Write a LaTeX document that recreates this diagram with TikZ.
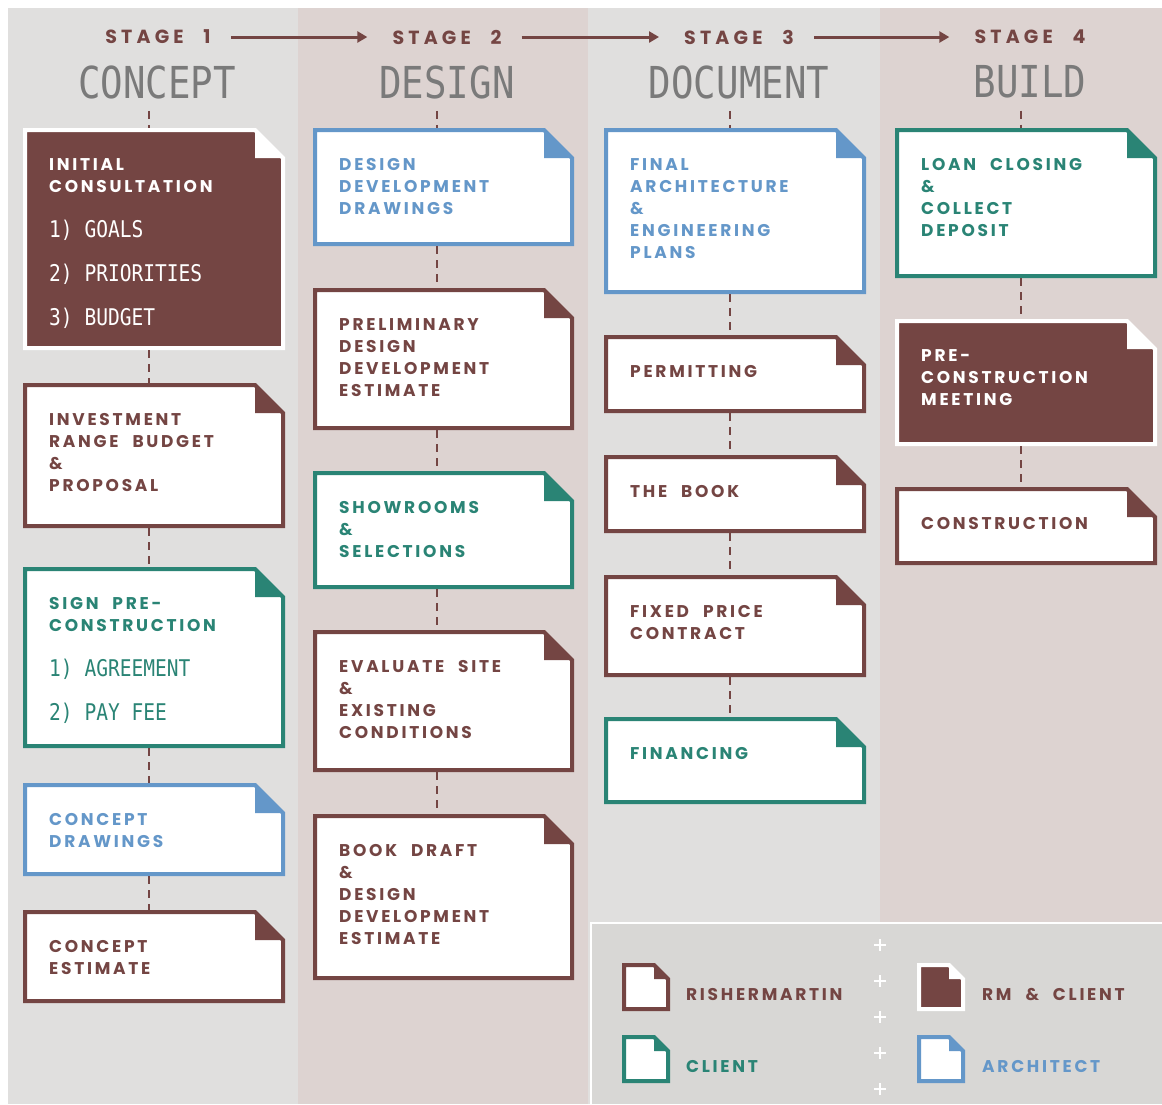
\documentclass[tikz,border=0pt]{standalone}
\usepackage{fontspec}
\usetikzlibrary{arrows.meta}
\newfontfamily\cardfont{Poppins}[LetterSpace=16,WordSpace=2.2]
\newfontfamily\stagefont{Poppins}[LetterSpace=22,WordSpace=2.4]
\newfontfamily\condmono{DejaVu Sans Mono}[FakeStretch=0.85]
\definecolor{rmred}{HTML}{744543}
\definecolor{rmteal}{HTML}{2A8475}
\definecolor{rmblue}{HTML}{6497C9}
\definecolor{bgone}{HTML}{E0DFDE}
\definecolor{bgtwo}{HTML}{DDD3D1}
\definecolor{legbg}{HTML}{D8D7D5}
\definecolor{headgrey}{HTML}{7A7A7A}
\setlength\lineskiplimit{-1000pt}
\newcommand\mitem[1]{{\condmono\mdseries\fontsize{23}{22}\selectfont #1}}
\tikzset{
  cardnode/.style={inner sep=0pt, outer sep=0pt, draw=none, rectangle},
  cardtext/.style={inner sep=0pt, anchor=north west, align=left,
    font=\cardfont\bfseries\fontsize{17}{22}\selectfont},
  legtext/.style={inner sep=0pt, anchor=west,
    font=\cardfont\bfseries\fontsize{17}{22}\selectfont},
  rm outline/.style={draw=rmred, fill=white}, rm fold/.style={fill=rmred}, rm text/.style={text=rmred},
  cl outline/.style={draw=rmteal, fill=white}, cl fold/.style={fill=rmteal}, cl text/.style={text=rmteal},
  ar outline/.style={draw=rmblue, fill=white}, ar fold/.style={fill=rmblue}, ar text/.style={text=rmblue},
  rmc outline/.style={draw=white, fill=rmred}, rmc fold/.style={fill=white}, rmc text/.style={text=white},
  conn/.style={draw=rmred, line width=2pt, dash pattern=on 8pt off 6pt},
  stagehead/.style={inner sep=0pt, text=rmred, font=\stagefont\bfseries\fontsize{19}{22}\selectfont},
  phasehead/.style={inner sep=0pt, text=headgrey, font=\condmono\fontsize{44}{44}\selectfont},
  stagearrow/.style={draw=rmred, line width=3pt, -{Triangle[length=10pt,width=11pt]},
    shorten <=20pt, shorten >=25pt},
}
\newcommand\card[7]{%
  \node[cardnode, minimum width={(#5-#3)*1pt}, minimum height={(#6-#4)*1pt}] (#1) at ({(#3+#5)/2},{(#4+#6)/2}) {};
  \path[#2 outline, line width=4pt, line join=miter] (#3+2,#4+2) -- (#5-30,#4+2) -- (#5-2,#4+30) -- (#5-2,#6-2) -- (#3+2,#6-2) -- cycle;
  \fill[#2 fold] (#5-30,#4+2) -- (#5-2,#4+30) -- (#5-30,#4+30) -- cycle;
  \node[cardtext, #2 text] (#1t) at (#3+26,#4+30) {#7};
}
\newcommand\legicon[4]{%
  \node[cardnode, minimum width=48pt, minimum height=48pt] (#1) at (#3+24,#4+24) {};
  \path[#2 outline, line width=4pt, line join=miter] (#3+2,#4+2) -- (#3+32,#4+2) -- (#3+46,#4+16) -- (#3+46,#4+46) -- (#3+2,#4+46) -- cycle;
  \fill[#2 fold] (#3+32,#4+2) -- (#3+46,#4+16) -- (#3+32,#4+16) -- cycle;
}
\begin{document}
\begin{tikzpicture}[x=1pt,y=-1pt]
\useasboundingbox (0,0) rectangle (1162,1104);
\fill[white] (0,0) rectangle (1162,1104);
% column backgrounds
\fill[bgone] (8,8) rectangle (298,1104);
\fill[bgtwo] (298,8) rectangle (588,1104);
\fill[bgone] (588,8) rectangle (880,1104);
\fill[bgtwo] (880,8) rectangle (1162,1104);
% dash axes
\coordinate (d1) at (149,0);
\coordinate (d2) at (437,0);
\coordinate (d3) at (730,0);
\coordinate (d4) at (1021,0);
% headers
\node[stagehead] (s1) at (158,37) {STAGE 1};
\node[stagehead] (s2) at (447,37) {STAGE 2};
\node[stagehead] (s3) at (739,37) {STAGE 3};
\node[stagehead] (s4) at (1030,37) {STAGE 4};
\draw[stagearrow] (s1) -- (s2);
\draw[stagearrow] (s2) -- (s3);
\draw[stagearrow] (s3) -- (s4);
\node[phasehead] (h1) at (157,82) {CONCEPT};
\node[phasehead] (h2) at (447,82) {DESIGN};
\node[phasehead] (h3) at (739,82) {DOCUMENT};
\node[phasehead] (h4) at (1030,82) {BUILD};
% column 1
\card{a1}{rmc}{23}{128}{285}{350}{INITIAL\\CONSULTATION\\[23pt]\mitem{1) GOALS}\\[22pt]\mitem{2) PRIORITIES}\\[22pt]\mitem{3) BUDGET}}
\card{a2}{rm}{23}{383}{285}{528}{INVESTMENT\\RANGE BUDGET\\\&\\PROPOSAL}
\card{a3}{cl}{23}{567}{285}{748}{SIGN PRE-\\CONSTRUCTION\\[23pt]\mitem{1) AGREEMENT}\\[22pt]\mitem{2) PAY FEE}}
\card{a4}{ar}{23}{783}{285}{876}{CONCEPT\\DRAWINGS}
\card{a5}{rm}{23}{910}{285}{1003}{CONCEPT\\ESTIMATE}
% column 2
\card{b1}{ar}{313}{128}{574}{246}{DESIGN\\DEVELOPMENT\\DRAWINGS}
\card{b2}{rm}{313}{288}{574}{430}{PRELIMINARY\\DESIGN\\DEVELOPMENT\\ESTIMATE}
\card{b3}{cl}{313}{471}{574}{589}{SHOWROOMS\\\&\\SELECTIONS}
\card{b4}{rm}{313}{630}{574}{772}{EVALUATE SITE\\\&\\EXISTING\\CONDITIONS}
\card{b5}{rm}{313}{814}{574}{980}{BOOK DRAFT\\\&\\DESIGN\\DEVELOPMENT\\ESTIMATE}
% column 3
\card{c1}{ar}{604}{128}{866}{294}{FINAL\\ARCHITECTURE\\\&\\ENGINEERING\\PLANS}
\card{c2}{rm}{604}{335}{866}{413}{PERMITTING}
\card{c3}{rm}{604}{455}{866}{533}{THE BOOK}
\card{c4}{rm}{604}{575}{866}{677}{FIXED PRICE\\CONTRACT}
\card{c5}{cl}{604}{717}{866}{804}{FINANCING}
% column 4
\card{e1}{cl}{895}{128}{1157}{278}{LOAN CLOSING\\\&\\COLLECT\\DEPOSIT}
\card{e2}{rmc}{895}{319}{1157}{446}{PRE-\\CONSTRUCTION\\MEETING}
\card{e3}{rm}{895}{487}{1157}{565}{CONSTRUCTION}
% dashed connectors between named nodes
\draw[conn, shorten <=12pt] (h1.south -| d1) -- (a1.north -| d1);
\draw[conn, shorten <=12pt] (h2.south -| d2) -- (b1.north -| d2);
\draw[conn, shorten <=12pt] (h3.south -| d3) -- (c1.north -| d3);
\draw[conn, shorten <=12pt] (h4.south -| d4) -- (e1.north -| d4);
\draw[conn] (a1.south -| d1) -- (a2.north -| d1);
\draw[conn] (a2.south -| d1) -- (a3.north -| d1);
\draw[conn] (a3.south -| d1) -- (a4.north -| d1);
\draw[conn] (a4.south -| d1) -- (a5.north -| d1);
\draw[conn] (b1.south -| d2) -- (b2.north -| d2);
\draw[conn] (b2.south -| d2) -- (b3.north -| d2);
\draw[conn] (b3.south -| d2) -- (b4.north -| d2);
\draw[conn] (b4.south -| d2) -- (b5.north -| d2);
\draw[conn] (c1.south -| d3) -- (c2.north -| d3);
\draw[conn] (c2.south -| d3) -- (c3.north -| d3);
\draw[conn] (c3.south -| d3) -- (c4.north -| d3);
\draw[conn] (c4.south -| d3) -- (c5.north -| d3);
\draw[conn] (e1.south -| d4) -- (e2.north -| d4);
\draw[conn] (e2.south -| d4) -- (e3.north -| d4);
% legend
\fill[legbg] (591,923) rectangle (1162,1104);
\draw[white, line width=2pt] (591,1104) -- (591,923) -- (1162,923);
\foreach \yy in {945,981,1017,1053,1089}
  \draw[white, line width=1.2pt] (874,\yy) -- (886,\yy) (880,\yy-6) -- (880,\yy+6);
\legicon{k1}{rm}{622}{963}
\legicon{k2}{rmc}{917}{963}
\legicon{k3}{cl}{622}{1035}
\legicon{k4}{ar}{917}{1035}
\node[legtext, rm text] (k1t) at (686,994) {RISHERMARTIN};
\node[legtext, rm text] (k2t) at (982,994) {RM \& CLIENT};
\node[legtext, cl text] (k3t) at (686,1066) {CLIENT};
\node[legtext, ar text] (k4t) at (982,1066) {ARCHITECT};
\end{tikzpicture}
\end{document}
